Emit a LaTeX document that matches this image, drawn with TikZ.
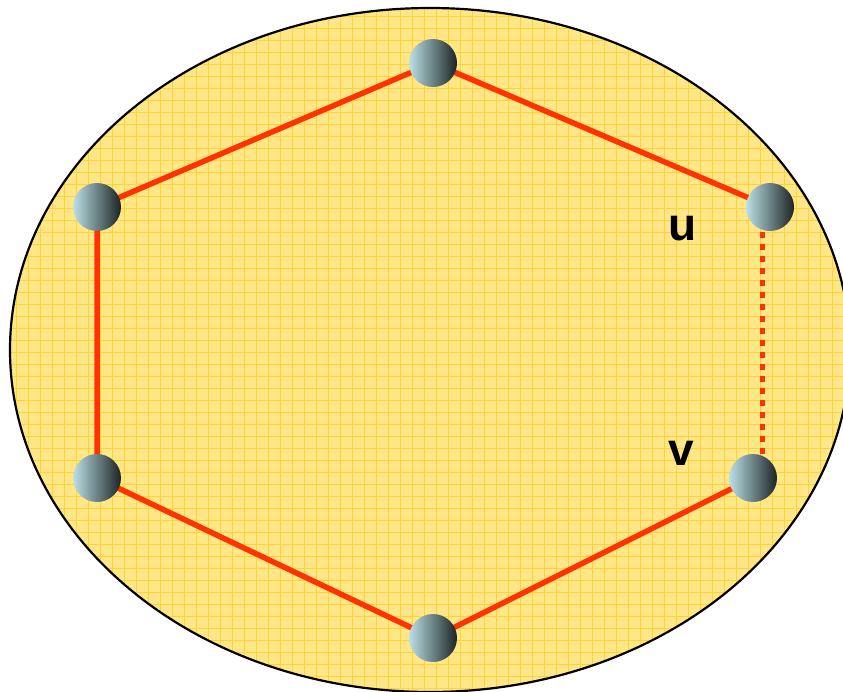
\documentclass[tikz,border=0pt]{standalone}
\usepackage{fontspec}
\setmainfont{Liberation Sans}
\begin{document}
\begin{tikzpicture}[x=1pt,y=-1pt,
  vertex/.style={circle,minimum size=48pt,inner sep=0pt,shading=axis,left color=vleft,middle color=vmid,right color=vright,shading angle=90},
  edge/.style={line width=5.5pt,draw=edgered},
  gridline/.style={gridyel,line width=1pt},
  lbl/.style={font=\bfseries\fontsize{46}{46}\selectfont,text=black,inner sep=0pt}]
\definecolor{fillyel}{RGB}{255,230,135}
\definecolor{gridyel}{RGB}{255,210,55}
\definecolor{edgered}{RGB}{255,51,0}
\definecolor{vleft}{RGB}{186,224,230}
\definecolor{vmid}{RGB}{140,176,182}
\definecolor{vright}{RGB}{28,36,36}
\useasboundingbox (0,0) rectangle (843,691);
\begin{scope}
  \clip (430,350) ellipse [x radius=420, y radius=342];
  \fill[fillyel] (0,0) rectangle (860,700);
  \foreach \i in {0,...,72} {\draw[gridline] (4+12*\i,0) -- (4+12*\i,700);}
  \foreach \j in {0,...,59} {\draw[gridline] (0,4+12*\j) -- (860,4+12*\j);}
\end{scope}
\draw[line width=2.2pt] (430,350) ellipse [x radius=420, y radius=342];
\coordinate (ct) at (433,63);
\coordinate (cul) at (97,207);
\coordinate (cur) at (770,207);
\coordinate (cll) at (97,478);
\coordinate (clr) at (753,478);
\coordinate (cb) at (433,638);
\draw[edge] (ct) -- (cul) -- (cll) -- (cb) -- (clr);
\draw[edge] (ct) -- (cur);
\draw[edgered,line width=5pt,dash pattern=on 6pt off 6pt] (762,232) -- (762,460);
\node[vertex] (t) at (ct) {};
\node[vertex] (ul) at (cul) {};
\node[vertex] (ur) at (cur) {};
\node[vertex] (ll) at (cll) {};
\node[vertex] (lr) at (clr) {};
\node[vertex] (b) at (cb) {};
\node[lbl] (u) at (683,229) {u};
\node[lbl] (v) at (681,453) {v};
\end{tikzpicture}
\end{document}
